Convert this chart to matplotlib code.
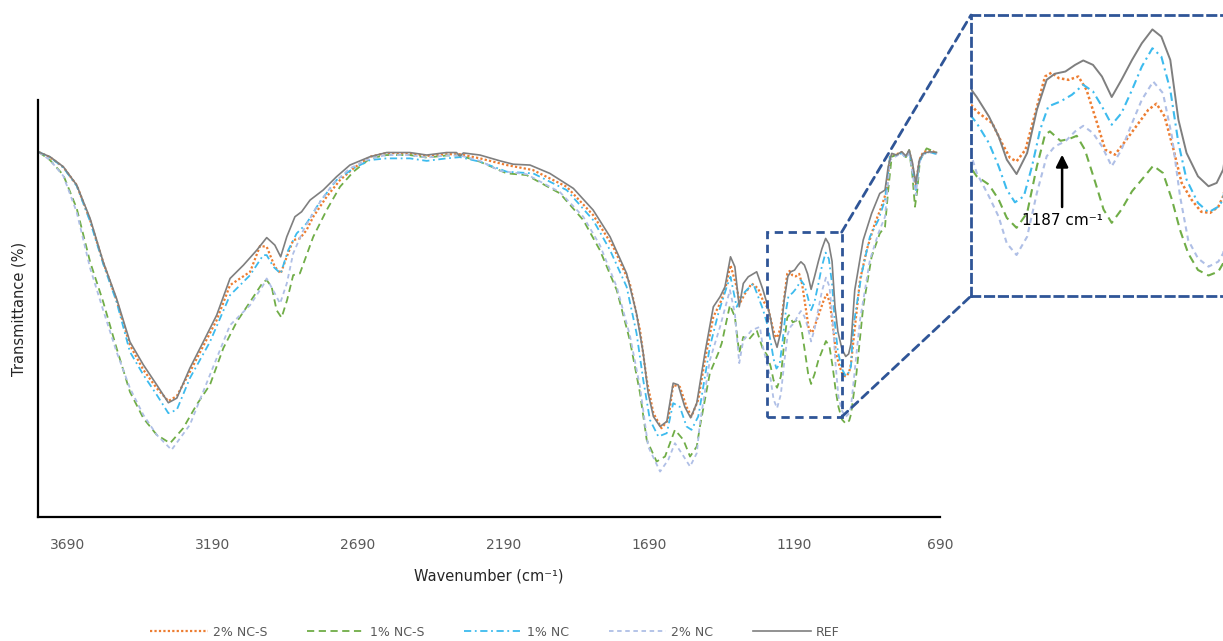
import matplotlib
matplotlib.use("Agg")
import matplotlib.pyplot as plt
from matplotlib.patches import Rectangle, ConnectionPatch
from matplotlib.lines import Line2D

# FTIR spectra (wavenumber in cm-1, transmittance in %)
wn_ref = [3787, 3749, 3703, 3657, 3611, 3566, 3520, 3474, 3428, 3382, 3342, 3313, 3268, 3222, 3176, 3130, 3084, 3038,
          3004, 2976, 2956, 2935, 2907, 2884, 2855, 2810, 2764, 2718, 2649, 2592, 2512, 2454, 2386, 2352, 2340, 2328,
          2271, 2202, 2157, 2099, 2031, 1950, 1882, 1824, 1767, 1733, 1710, 1693, 1675, 1652, 1629, 1607, 1590, 1567,
          1547, 1526, 1498, 1469, 1446, 1429, 1410, 1395, 1380, 1366, 1349, 1320, 1299, 1284, 1272, 1262, 1250, 1237,
          1225, 1213, 1203, 1190, 1178, 1168, 1156, 1145, 1133, 1121, 1108, 1096, 1083, 1072, 1061, 1051, 1041, 1027,
          1014, 1004, 996, 983, 954, 925, 897, 879, 868, 856, 839, 822, 807, 796, 785, 773, 761, 748, 725, 702]
t_ref = [87.5, 86.4, 84.0, 79.6, 71.6, 61.2, 52.4, 42.0, 36.5, 31.7, 27.4, 28.5, 35.7, 42.0, 48.4, 57.2, 60.4, 64.0,
         67.0, 65.2, 62.4, 67.2, 72.0, 73.2, 76.0, 78.4, 81.6, 84.4, 86.4, 87.4, 87.4, 86.8, 87.4, 87.4, 86.6, 87.3,
         86.8, 85.4, 84.6, 84.4, 82.4, 78.8, 73.6, 67.2, 58.4, 48.8, 39.3, 29.7, 24.1, 21.7, 22.9, 32.1, 31.7, 26.4,
         23.8, 27.3, 39.3, 50.4, 52.8, 55.2, 62.4, 60.0, 50.4, 56.0, 57.6, 58.8, 54.6, 51.1, 47.5, 43.3, 40.7, 44.5,
         52.3, 57.7, 58.8, 59.2, 60.4, 61.2, 60.4, 58.3, 54.6, 57.7, 61.3, 64.3, 66.8, 65.5, 61.3, 50.5, 44.5, 40.3,
         38.5, 39.1, 41.5, 54.4, 66.4, 72.8, 77.6, 78.4, 84.0, 87.2, 86.8, 87.6, 86.6, 88.0, 85.1, 80.0, 85.6, 87.2,
         87.6, 87.4]

wn_2ncs = [3787, 3749, 3703, 3657, 3611, 3566, 3520, 3474, 3428, 3382, 3342, 3313, 3268, 3222, 3176, 3130, 3061, 3027,
           3004, 2976, 2956, 2935, 2913, 2890, 2867, 2844, 2798, 2752, 2706, 2649, 2592, 2512, 2454, 2386, 2340, 2271,
           2179, 2089, 1973, 1882, 1813, 1756, 1721, 1698, 1675, 1647, 1624, 1607, 1584, 1561, 1544, 1521, 1498, 1469,
           1446, 1429, 1410, 1389, 1378, 1360, 1337, 1315, 1299, 1280, 1268, 1258, 1250, 1239, 1227, 1215, 1207, 1198,
           1186, 1174, 1164, 1151, 1141, 1129, 1115, 1100, 1088, 1078, 1068, 1057, 1047, 1035, 1023, 1012, 1002, 996,
           965, 942, 914, 891, 873, 862, 839, 822, 807, 796, 785, 773, 761, 748, 725, 702]
t_2ncs = [87.5, 86.3, 83.9, 79.6, 71.2, 61.1, 52.0, 41.2, 35.3, 30.9, 27.8, 29.0, 34.8, 41.0, 47.2, 55.6, 58.8, 65.0,
          64.8, 60.0, 58.4, 62.4, 66.4, 66.8, 68.8, 72.0, 76.8, 80.8, 83.6, 86.4, 87.3, 87.2, 86.6, 87.0, 87.0, 86.0,
          84.4, 83.2, 79.2, 72.4, 64.8, 56.0, 44.8, 32.9, 24.9, 21.3, 23.3, 31.7, 31.2, 26.4, 24.1, 28.1, 37.6, 48.0,
          51.2, 54.4, 60.4, 55.2, 51.2, 53.6, 56.0, 54.8, 52.0, 49.9, 46.3, 43.6, 43.0, 45.1, 51.7, 58.3, 59.0, 58.0,
          57.7, 58.3, 55.9, 49.9, 45.1, 44.2, 46.9, 49.9, 52.3, 53.4, 51.1, 45.1, 39.1, 36.1, 33.9, 33.7, 34.8, 36.7,
          56.8, 64.0, 70.4, 74.4, 78.4, 86.4, 87.0, 87.5, 86.3, 87.8, 84.4, 79.6, 85.6, 87.5, 88.0, 87.3]

wn_1ncs = [3787, 3749, 3703, 3657, 3611, 3566, 3520, 3474, 3428, 3382, 3336, 3291, 3245, 3199, 3153, 3107, 3061, 3016,
           3004, 2987, 2970, 2953, 2934, 2913, 2890, 2844, 2798, 2752, 2706, 2649, 2592, 2512, 2454, 2386, 2340, 2271,
           2179, 2111, 1996, 1916, 1859, 1801, 1756, 1721, 1698, 1664, 1635, 1601, 1572, 1549, 1526, 1515, 1481, 1452,
           1440, 1412, 1395, 1380, 1366, 1349, 1320, 1299, 1284, 1272, 1262, 1250, 1237, 1225, 1215, 1209, 1196, 1186,
           1176, 1166, 1153, 1143, 1133, 1121, 1108, 1096, 1082, 1070, 1059, 1049, 1039, 1027, 1014, 1002, 996, 977,
           954, 925, 897, 879, 868, 856, 839, 822, 807, 796, 785, 776, 768, 759, 736, 702]
t_1ncs = [87.5, 85.6, 82.0, 74.0, 61.2, 51.6, 40.5, 30.0, 23.7, 19.7, 17.7, 21.3, 26.9, 31.7, 40.5, 46.8, 51.6, 56.4,
          56.8, 55.2, 49.6, 47.8, 52.0, 58.0, 58.4, 67.2, 73.6, 79.2, 82.8, 86.0, 86.8, 86.8, 86.2, 86.7, 86.7, 85.2,
          82.4, 82.0, 77.6, 71.2, 64.0, 54.4, 42.4, 29.7, 18.5, 13.3, 14.5, 20.9, 18.5, 14.5, 16.9, 21.7, 34.5, 39.3,
          41.7, 50.8, 48.0, 39.3, 43.2, 42.4, 44.8, 40.3, 38.8, 36.1, 32.8, 31.0, 33.7, 42.1, 47.8, 48.4, 46.7, 47.0,
          47.6, 45.1, 39.1, 34.3, 31.9, 34.3, 37.6, 39.7, 42.2, 40.9, 36.1, 30.6, 26.4, 23.4, 22.4, 23.1, 24.6, 34.5,
          50.4, 62.4, 68.0, 69.6, 78.4, 86.4, 86.8, 87.5, 86.3, 88.0, 82.0, 74.4, 78.4, 85.6, 88.4, 87.4]

wn_1nc = [3787, 3749, 3703, 3657, 3611, 3566, 3520, 3474, 3428, 3382, 3342, 3313, 3268, 3199, 3130, 3061, 3016, 3004,
          2981, 2956, 2930, 2901, 2867, 2821, 2764, 2706, 2649, 2592, 2512, 2454, 2386, 2340, 2271, 2179, 2088, 1973,
          1882, 1824, 1767, 1733, 1710, 1687, 1658, 1629, 1607, 1584, 1561, 1544, 1521, 1515, 1481, 1452, 1423, 1410,
          1389, 1366, 1332, 1299, 1284, 1272, 1262, 1252, 1241, 1231, 1221, 1211, 1196, 1182, 1168, 1156, 1145, 1133,
          1121, 1108, 1096, 1083, 1072, 1061, 1051, 1041, 1027, 1014, 1002, 996, 988, 959, 931, 902, 879, 862, 839,
          822, 807, 796, 785, 773, 761, 748, 725, 702]
t_1nc = [87.5, 86.3, 83.8, 79.4, 70.9, 60.7, 51.6, 39.6, 34.1, 29.3, 24.9, 25.7, 33.3, 42.0, 53.2, 58.0, 62.8, 62.8,
         60.0, 58.4, 64.0, 68.0, 70.4, 75.6, 80.8, 83.6, 85.6, 86.0, 86.0, 85.4, 86.0, 86.3, 85.2, 82.8, 82.4, 78.4,
         71.2, 64.0, 55.2, 44.1, 32.9, 23.3, 19.3, 20.1, 27.3, 26.4, 21.7, 20.9, 24.1, 26.4, 40.8, 48.8, 55.2, 57.6,
         50.4, 53.6, 56.0, 49.9, 46.3, 42.1, 37.9, 35.6, 36.7, 42.1, 48.7, 52.9, 53.8, 55.0, 56.8, 55.6, 52.9, 49.6,
         51.7, 55.9, 60.1, 63.4, 61.9, 55.9, 46.3, 39.7, 35.5, 33.8, 34.8, 36.1, 45.6, 58.4, 67.2, 71.2, 76.0, 86.4,
         86.6, 87.3, 86.1, 87.5, 83.7, 78.4, 85.1, 87.0, 87.5, 87.0]

wn_2nc = [3787, 3749, 3703, 3657, 3611, 3566, 3520, 3474, 3428, 3382, 3331, 3268, 3199, 3130, 3061, 3016, 3004, 2976,
          2958, 2935, 2913, 2878, 2832, 2775, 2718, 2649, 2592, 2512, 2454, 2386, 2340, 2271, 2202, 2111, 1996, 1916,
          1859, 1801, 1756, 1721, 1693, 1652, 1624, 1601, 1578, 1549, 1526, 1515, 1481, 1446, 1412, 1395, 1380, 1366,
          1337, 1309, 1299, 1284, 1272, 1262, 1250, 1237, 1225, 1213, 1203, 1190, 1178, 1168, 1156, 1145, 1133, 1121,
          1108, 1096, 1082, 1070, 1059, 1049, 1039, 1027, 1014, 1002, 996, 965, 931, 902, 879, 862, 839, 822, 807,
          796, 785, 773, 761, 748, 725, 702]
t_2nc = [87.5, 85.6, 81.8, 73.1, 59.7, 49.6, 39.6, 30.9, 24.5, 19.7, 16.1, 22.1, 34.1, 46.0, 50.8, 55.6, 57.2, 53.6,
         51.2, 56.0, 63.2, 68.8, 74.4, 80.0, 83.6, 86.0, 86.8, 86.8, 86.2, 86.7, 86.7, 85.4, 83.0, 82.2, 77.9, 72.0,
         65.2, 55.2, 43.6, 31.2, 16.9, 10.9, 13.7, 17.7, 15.3, 12.1, 15.3, 22.5, 37.6, 45.6, 54.4, 48.8, 36.9, 42.4,
         44.8, 45.6, 40.9, 36.7, 33.0, 28.2, 26.1, 29.4, 37.3, 43.9, 45.7, 46.6, 48.4, 49.4, 48.1, 45.7, 42.1, 45.1,
         49.9, 54.1, 57.4, 55.3, 47.5, 36.7, 28.8, 25.5, 24.0, 24.9, 26.4, 47.2, 61.6, 68.0, 72.0, 85.6, 86.6, 87.3,
         86.1, 87.8, 82.7, 77.2, 84.9, 87.0, 87.5, 87.0]

x_ticks = [3690, 3190, 2690, 2190, 1690, 1190, 690]

# zoomed region shown in the inset
box_wn = (1286, 1028)
box_t = (24.0, 68.3)
inset_wn = (1306, 963)
inset_t = (18.7, 69.4)
peak_wn = 1194
peak_label = "1187 cm\u207b\u00b9"

# label, x, y, colour, dash pattern, width
series = [
    ("2% NC-S", wn_2ncs, t_2ncs, "#ED7D31", (0, (1, 1)), 1.6),
    ("1% NC-S", wn_1ncs, t_1ncs, "#70AD47", (0, (4, 2.5)), 1.3),
    ("1% NC", wn_1nc, t_1nc, "#3DBBEE", (0, (4, 2, 1, 2)), 1.3),
    ("2% NC", wn_2nc, t_2nc, "#AFBFE6", (0, (2.5, 2)), 1.3),
    ("REF", wn_ref, t_ref, "#7F7F7F", "-", 1.2),
]

W, H = 1223, 641
fig = plt.figure(figsize=(W / 100, H / 100), dpi=100)

# main spectrum
ax = fig.add_axes([38 / W, 1 - 517 / H, 902 / W, 417 / H])
for name, x, y, col, ls, lw in series:
    ax.plot(x, y, color=col, linestyle=ls, linewidth=lw, label=name)
ax.set_xlim(3790, 690)
ax.set_ylim(0, 100)
ax.set_xticks(x_ticks)
ax.set_xticklabels([str(v) for v in x_ticks])
ax.tick_params(axis="x", length=0, pad=15, labelsize=10, labelcolor="#595959")
ax.tick_params(axis="y", left=False, labelleft=False)
for s in ["top", "right"]:
    ax.spines[s].set_visible(False)
for s in ["left", "bottom"]:
    ax.spines[s].set_linewidth(1.6)
    ax.spines[s].set_color("black")
ax.set_xlabel("Wavenumber (cm\u207b\u00b9)", fontsize=10.5, color="#262626", labelpad=12)
ax.set_ylabel("Transmittance (%)", fontsize=10.5, color="#262626", labelpad=8)

box_col = "#2F5597"
box_ls = (0, (3, 2))
rect = Rectangle((box_wn[0], box_t[0]), box_wn[1] - box_wn[0], box_t[1] - box_t[0],
                 fill=False, edgecolor=box_col, linewidth=2, linestyle=box_ls, zorder=5)
ax.add_patch(rect)

# inset with the zoomed region
ax_in = fig.add_axes([971 / W, 1 - 296 / H, 279 / W, 281 / H])
for name, x, y, col, ls, lw in series:
    ax_in.plot(x, y, color=col, linestyle=ls, linewidth=lw + 0.2)
ax_in.set_xlim(*inset_wn)
ax_in.set_ylim(*inset_t)
ax_in.set_xticks([])
ax_in.set_yticks([])
for s in ax_in.spines.values():
    s.set_color(box_col)
    s.set_linewidth(2)
    s.set_linestyle(box_ls)
ax_in.annotate(peak_label, xy=(peak_wn, 44.2), xytext=(peak_wn, 32.4),
               ha="center", va="center", fontsize=11, color="black",
               arrowprops=dict(arrowstyle="-|>", color="black", lw=1.8, mutation_scale=18,
                               shrinkA=2, shrinkB=0))

# connector lines from the box to the inset
for ty, fy in [(box_t[1], 1), (box_t[0], 0)]:
    con = ConnectionPatch(xyA=(box_wn[1], ty), coordsA="data", axesA=ax,
                          xyB=(0, fy), coordsB="axes fraction", axesB=ax_in,
                          color=box_col, linewidth=2, linestyle=box_ls)
    fig.add_artist(con)

# legend under the chart
handles = [Line2D([], [], color=c, linestyle=ls, linewidth=lw) for _, _, _, c, ls, lw in series]
labels = [s[0] for s in series]
fig.legend(handles, labels, loc="center", bbox_to_anchor=(495 / W, 1 - 632 / H), ncol=5,
           frameon=False, handlelength=4.6, handletextpad=0.4, columnspacing=3.2,
           fontsize=9, labelcolor="#595959")

fig.savefig("out.png", dpi=100)
